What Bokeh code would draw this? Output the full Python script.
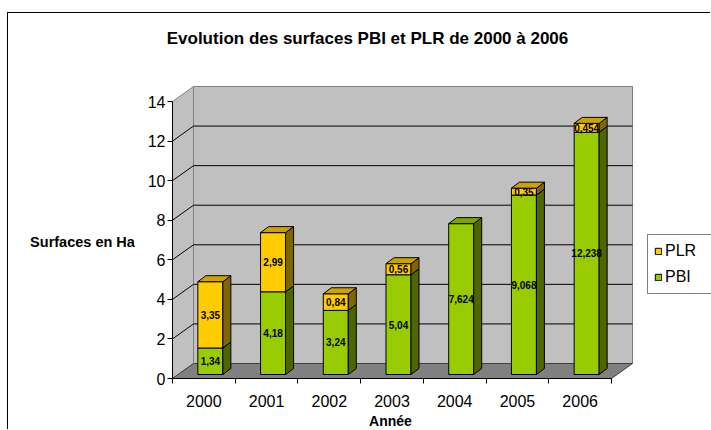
from bokeh.plotting import figure
from bokeh.models import Range1d, FixedTicker, Legend, LegendItem, Label
from bokeh.core.properties import value
from bokeh.embed import file_html
from bokeh.resources import INLINE

# ---------------- data ----------------
years = ["2000", "2001", "2002", "2003", "2004", "2005", "2006"]
pbi = [1.34, 4.18, 3.24, 5.04, 7.624, 9.068, 12.238]
plr = [3.35, 2.99, 0.84, 0.56, 0.0, 0.35, 0.454]
y_ticks = [0, 2, 4, 6, 8, 10, 12, 14]
title_text = "Evolution des surfaces PBI et PLR de 2000 à 2006"
y_title = "Surfaces en Ha"
x_title = "Année"

# ---------------- style / layout constants ----------------
FONT = "Liberation Sans"
XU = 439 / 7.0      # px per category
YU = 277 / 14.0     # px per unit
X0_PX, Y0_PX = 172, 378      # page position of the data origin
ORG_X, ORG_Y = 8, 13         # page position of the canvas
PAGE_W, PAGE_H = 711, 430

def px2x(px):
    return (px - X0_PX) / XU

def px2y(py):
    return (Y0_PX - py) / YU

DX, DY = 21 / XU, 15 / YU        # depth of the 3D box
BOX, BOY = 6.5 / XU, 4 / YU      # bar offset inside the depth
HW = 12.5 / XU                   # half bar width
BDX, BDY = 8 / XU, 6 / YU        # bar depth

GREEN_F, GREEN_S, GREEN_T = "#99CC00", "#4D6600", "#7FA300"
YEL_F, YEL_S, YEL_T = "#FFCC00", "#806600", "#CCA300"
WALL, FLOOR = "#C0C0C0", "#808080"

n = len(years)
ymax = y_ticks[-1]

W, H = PAGE_W - ORG_X, PAGE_H - ORG_Y
p = figure(width=W, height=H,
           x_range=Range1d(px2x(ORG_X), px2x(PAGE_W)),
           y_range=Range1d(px2y(PAGE_H), px2y(ORG_Y)),
           output_backend="svg", toolbar_location=None,
           min_border_left=0, min_border_right=0,
           min_border_top=0, min_border_bottom=0)
p.styles = {"border-left": "1px solid #000", "border-top": "1px solid #000",
            "margin-left": "7px", "margin-top": "12px"}
p.outline_line_color = None
p.xgrid.visible = False
p.ygrid.visible = False
p.background_fill_color = "white"
p.border_fill_color = "white"

# ---------------- walls and floor ----------------
p.patch([0, 0, DX, DX], [0, ymax, ymax + DY, DY], fill_color=WALL,
        line_color=FLOOR, line_width=1)
p.patch([DX, DX, n + DX, n + DX], [DY, ymax + DY, ymax + DY, DY],
        fill_color=WALL, line_color=FLOOR, line_width=1)
gt = [t for t in y_ticks if 0 < t < ymax]
p.segment(x0=[DX] * len(gt), y0=[t + DY for t in gt],
          x1=[n + DX] * len(gt), y1=[t + DY for t in gt],
          line_color="black", line_width=1)
p.segment(x0=[0] * len(gt), y0=gt, x1=[DX] * len(gt), y1=[t + DY for t in gt],
          line_color="black", line_width=1)
p.patch([0, n, n + DX, DX], [0, 0, DY, DY], fill_color=FLOOR,
        line_color="#404040", line_width=1)

# ---------------- bars ----------------
centers = [i + 0.5 + BOX for i in range(n)]
left = [c - HW for c in centers]
right = [c + HW for c in centers]
pbi_bot = [BOY] * n
pbi_top = [BOY + v for v in pbi]
plr_top = [t + v for t, v in zip(pbi_top, plr)]

r_pbi = p.quad(left=left, right=right, bottom=pbi_bot, top=pbi_top,
               fill_color=GREEN_F, line_color="black", line_width=1)
idx = [i for i in range(n) if plr[i] > 0]
r_plr = p.quad(left=[left[i] for i in idx], right=[right[i] for i in idx],
               bottom=[pbi_top[i] for i in idx], top=[plr_top[i] for i in idx],
               fill_color=YEL_F, line_color="black", line_width=1)

def side(xr, yb, yt):
    return [xr, xr, xr + BDX, xr + BDX], [yb, yt, yt + BDY, yb + BDY]

def top(xl, xr, yt):
    return [xl, xr, xr + BDX, xl + BDX], [yt, yt, yt + BDY, yt + BDY]

sx, sy, sc = [], [], []
for i in range(n):
    a, b = side(right[i], pbi_bot[i], pbi_top[i])
    sx.append(a); sy.append(b); sc.append(GREEN_S)
    if plr[i] > 0:
        a, b = side(right[i], pbi_top[i], plr_top[i])
        sx.append(a); sy.append(b); sc.append(YEL_S)
p.patches(xs=sx, ys=sy, fill_color=sc, line_color="black", line_width=1)

tx, ty, tc = [], [], []
for i in range(n):
    a, b = top(left[i], right[i], plr_top[i])
    tx.append(a); ty.append(b)
    tc.append(YEL_T if plr[i] > 0 else GREEN_T)
p.patches(xs=tx, ys=ty, fill_color=tc, line_color="black", line_width=1)

# ---------------- value labels ----------------
def fmt(v):
    return ("%g" % v).replace(".", ",")

lx, ly, lt = [], [], []
for i in range(n):
    lx.append(centers[i]); ly.append((pbi_bot[i] + pbi_top[i]) / 2); lt.append(fmt(pbi[i]))
    if plr[i] > 0:
        lx.append(centers[i]); ly.append((pbi_top[i] + plr_top[i]) / 2); lt.append(fmt(plr[i]))
p.text(x=lx, y=ly, text=lt, text_align="center", text_baseline="middle",
       text_font=value(FONT), text_font_style="bold", text_font_size="10px",
       text_color="black")

# ---------------- axes (fixed at the data origin) ----------------
ya = p.yaxis[0]
ya.fixed_location = 0
ya.ticker = FixedTicker(ticks=y_ticks)
ya.bounds = (0, ymax)
ya.axis_line_color = "black"
ya.major_tick_in = 0
ya.major_tick_out = 5
ya.minor_tick_line_color = None
ya.major_label_standoff = 2
ya.major_label_text_font = FONT
ya.major_label_text_font_size = "16px"
ya.major_label_text_color = "black"

xa = p.xaxis[0]
xa.fixed_location = 0
xa.ticker = FixedTicker(ticks=[i + 0.5 for i in range(n)],
                        minor_ticks=list(range(n + 1)))
xa.bounds = (0, n)
xa.axis_line_color = "black"
xa.major_tick_in = 0
xa.major_tick_out = 0
xa.minor_tick_in = 0
xa.minor_tick_out = 5
xa.minor_tick_line_color = "black"
xa.major_label_overrides = {i + 0.5: years[i] for i in range(n)}
xa.major_label_standoff = 11
xa.major_label_text_font = FONT
xa.major_label_text_font_size = "16px"
xa.major_label_text_color = "black"

# ---------------- titles ----------------
p.add_layout(Label(x=px2x(367), y=px2y(38), text=title_text, text_align="center",
                   text_baseline="middle", text_font=FONT, text_font_style="bold",
                   text_font_size="17px", text_color="black"))
p.add_layout(Label(x=px2x(82), y=px2y(241), text=y_title, text_align="center",
                   text_baseline="middle", text_font=FONT, text_font_style="bold",
                   text_font_size="14.5px", text_color="black"))
p.add_layout(Label(x=px2x(390), y=px2y(412), text=x_title, text_align="center",
                   text_baseline="top", text_font=FONT, text_font_style="bold",
                   text_font_size="14px", text_color="black"))

# ---------------- legend ----------------
legend = Legend(items=[LegendItem(label="PLR", renderers=[r_plr]),
                       LegendItem(label="PBI", renderers=[r_pbi])],
                location=(647 - ORG_X, PAGE_H - 294),
                orientation="vertical", padding=6, spacing=6, margin=0,
                glyph_width=8, glyph_height=8, label_standoff=3,
                label_height=20, label_width=60,
                label_text_font=FONT, label_text_font_size="16px",
                label_text_color="black",
                border_line_color="black", border_line_width=1,
                background_fill_color="white", background_fill_alpha=1)
p.add_layout(legend)

open("out.html", "w").write(file_html(p, INLINE))
